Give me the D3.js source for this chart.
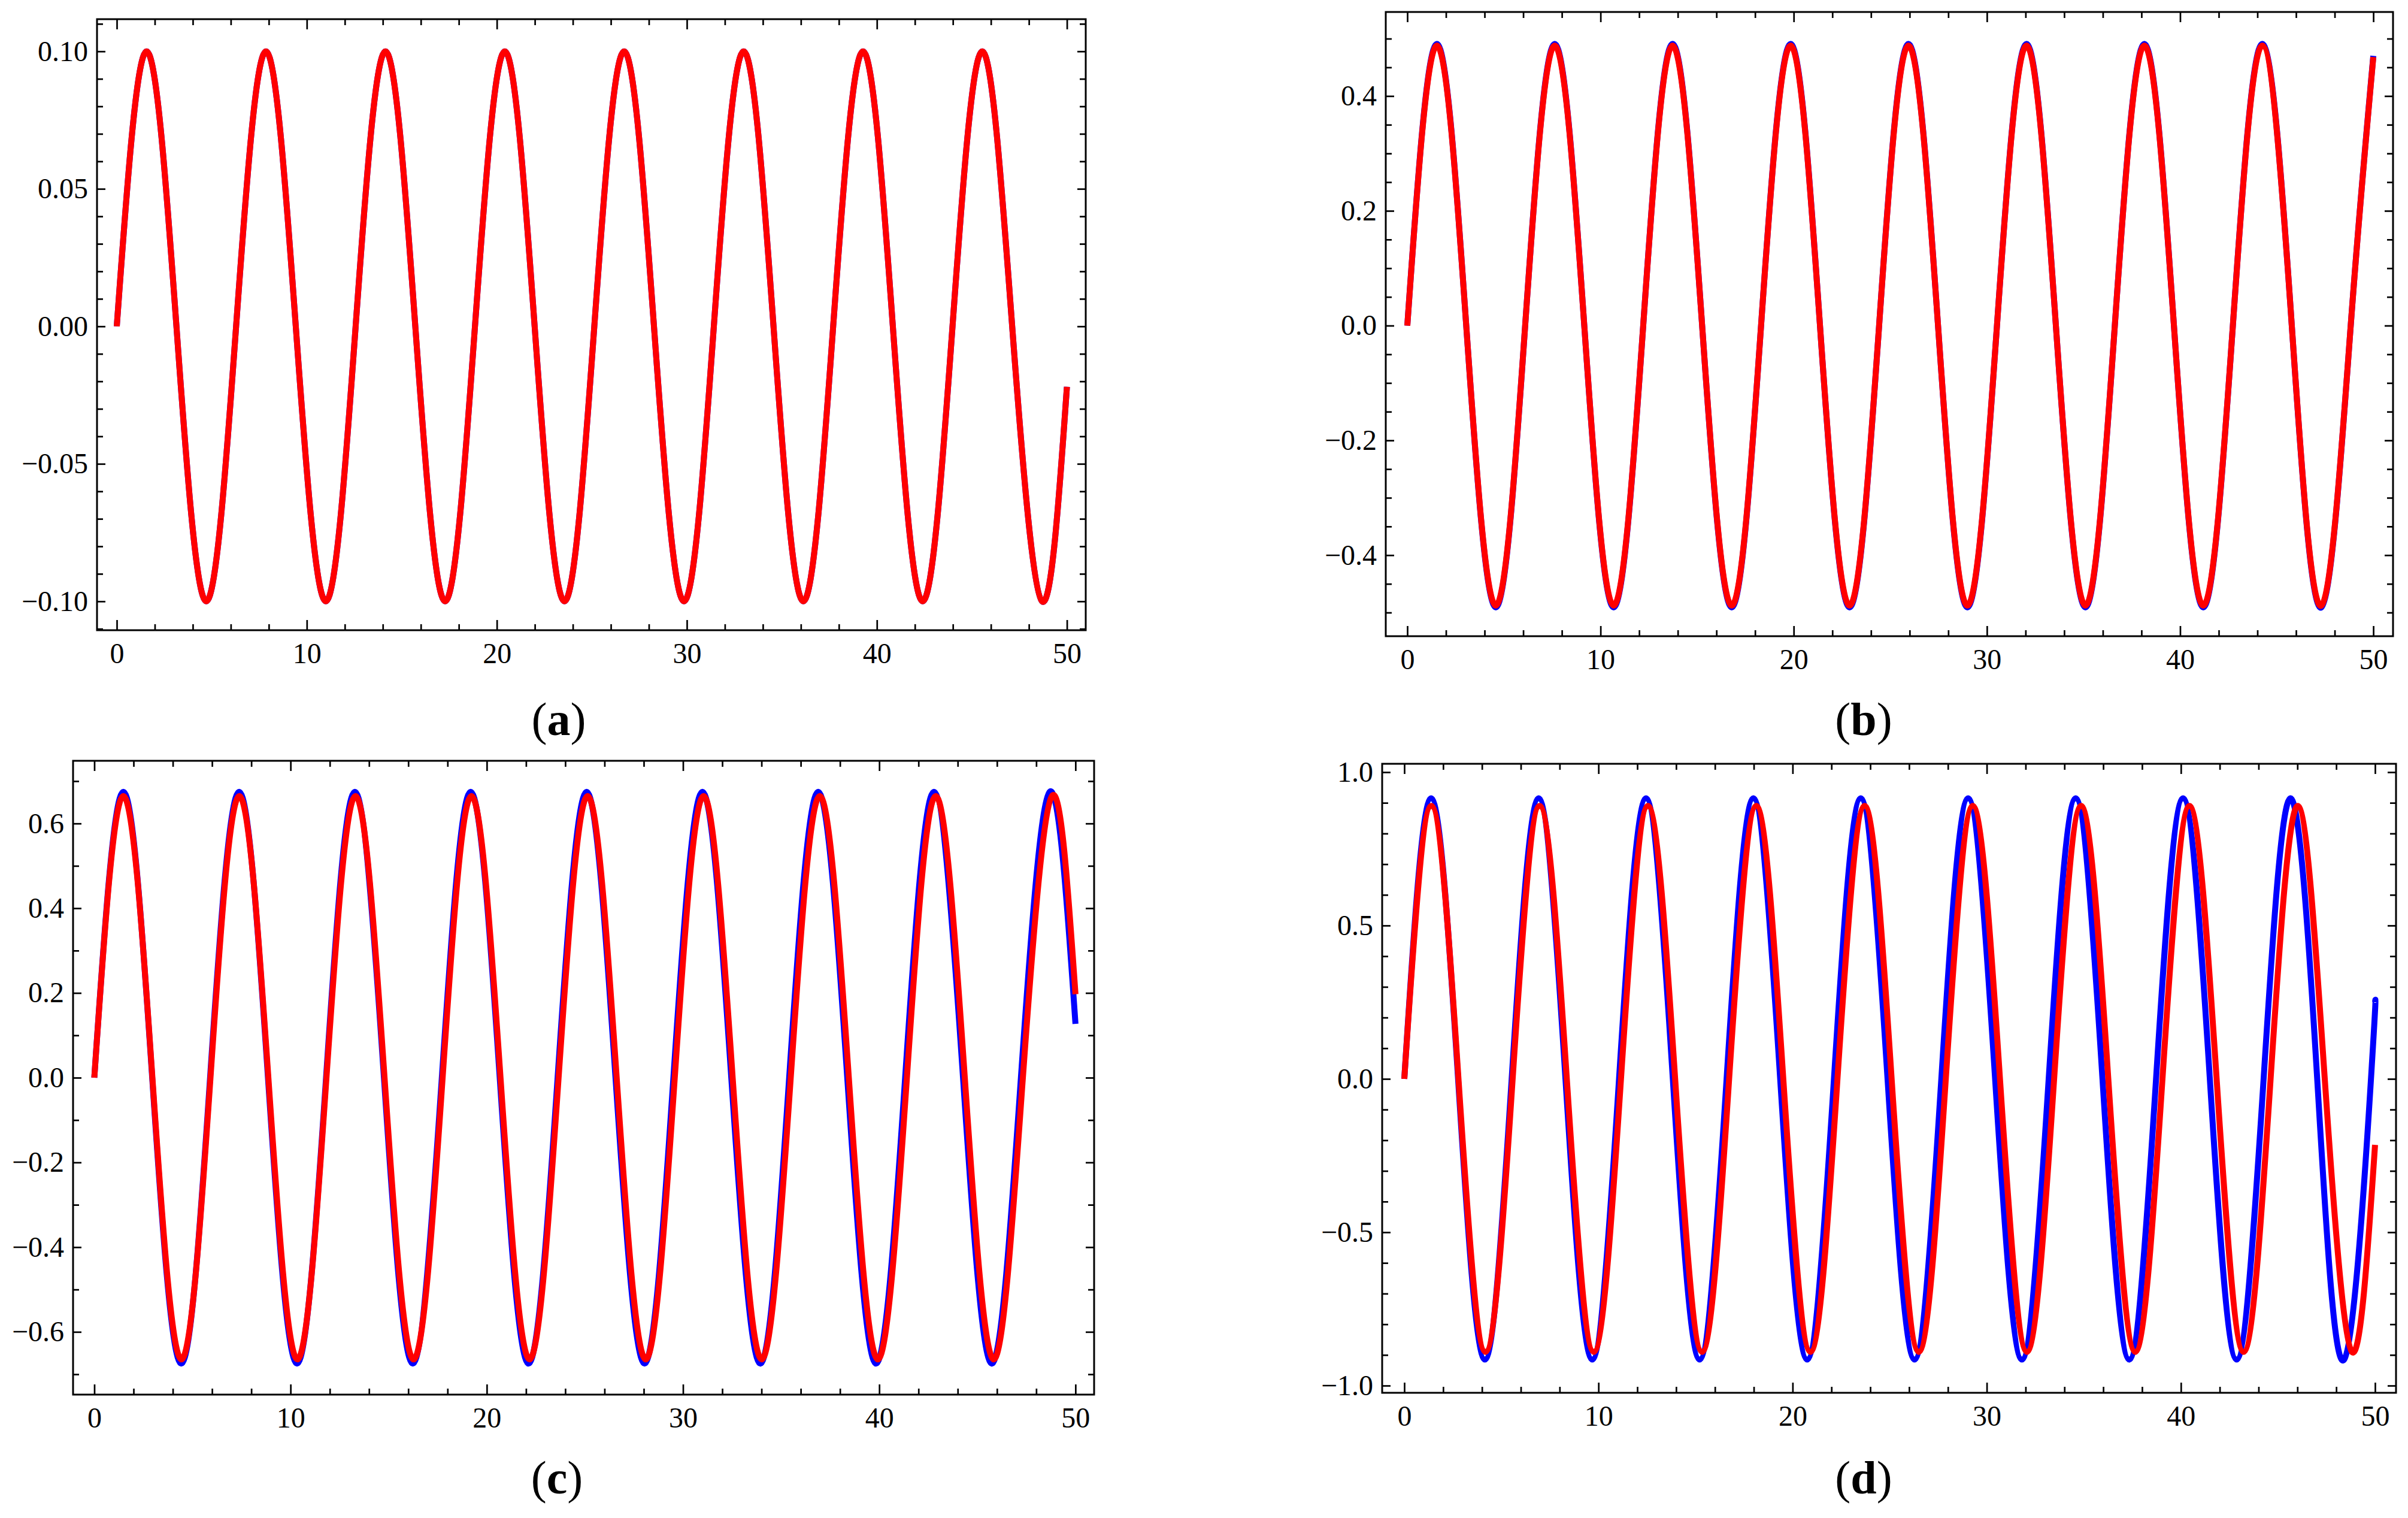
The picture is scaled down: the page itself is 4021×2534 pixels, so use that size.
<!DOCTYPE html>
<html>
<head>
<meta charset="utf-8">
<script src="https://cdn.jsdelivr.net/npm/d3@7"></script>
<style>
  body { margin: 0; background: #fff; }
</style>
</head>
<body>
<div id="figura"></div>
<script>
// ticks shared by the four panels
var xTicks = [0, 10, 20, 30, 40, 50];
var xLabels = ["0", "10", "20", "30", "40", "50"];

var aYTicks = [-0.1, -0.05, 0, 0.05, 0.1];
var aYLabels = ["\u22120.10", "\u22120.05", "0.00", "0.05", "0.10"];
var bYTicks = [-0.4, -0.2, 0, 0.2, 0.4];
var bYLabels = ["\u22120.4", "\u22120.2", "0.0", "0.2", "0.4"];
var cYTicks = [-0.6, -0.4, -0.2, 0, 0.2, 0.4, 0.6];
var cYLabels = ["\u22120.6", "\u22120.4", "\u22120.2", "0.0", "0.2", "0.4", "0.6"];
var dYTicks = [-1, -0.5, 0, 0.5, 1];
var dYLabels = ["\u22121.0", "\u22120.5", "0.0", "0.5", "1.0"];

// (a) curves read at zeros / peaks / troughs
var aTime = [0, 1.57, 3.14, 4.71, 6.28, 7.85, 9.42, 11.0, 12.57, 14.14, 15.71, 17.28, 18.85, 20.42, 21.99, 23.56,
  25.13, 26.7, 28.27, 29.85, 31.42, 32.99, 34.56, 36.13, 37.7, 39.27, 40.84, 42.41, 43.98, 45.55, 47.12, 48.69, 50];
var aBlue = [0, 0.1, 0, -0.1, 0, 0.1, 0, -0.1, 0, 0.1, 0, -0.1, 0, 0.1, 0, -0.1,
  0, 0.1, 0, -0.1, 0, 0.1, 0, -0.1, 0, 0.1, 0, -0.1, 0, 0.1, 0, -0.1, -0.022];
var aRed = [0, 0.1, 0, -0.1, 0, 0.1, 0, -0.1, 0, 0.1, 0, -0.1, 0, 0.1, 0, -0.1,
  0, 0.1, 0, -0.1, 0, 0.1, 0, -0.1, 0, 0.1, 0, -0.1, 0, 0.1, 0, -0.1, -0.022];

// (b)
var bTime = [0, 1.53, 3.05, 4.58, 6.1, 7.63, 9.16, 10.68, 12.21, 13.73, 15.26, 16.79, 18.31, 19.84, 21.36, 22.89,
  24.42, 25.94, 27.47, 28.99, 30.52, 32.05, 33.57, 35.1, 36.62, 38.15, 39.68, 41.2, 42.73, 44.25, 45.78, 47.31, 48.83, 50];
var bBlue = [0, 0.491, 0, -0.491, 0, 0.491, 0, -0.491, 0, 0.491, 0, -0.491, 0, 0.491, 0, -0.491,
  0, 0.491, 0, -0.491, 0, 0.491, 0, -0.491, 0, 0.491, 0, -0.491, 0, 0.491, 0, -0.491, 0, 0.47];
var bRed = [0, 0.488, 0, -0.488, 0, 0.488, 0, -0.488, 0, 0.488, 0, -0.488, 0, 0.488, 0, -0.488,
  0, 0.488, 0, -0.488, 0, 0.488, 0, -0.488, 0, 0.488, 0, -0.488, 0, 0.488, 0, -0.488, 0, 0.468];

// (c)
var cBlueTime = [0, 1.48, 2.95, 4.43, 5.9, 7.38, 8.85, 10.33, 11.81, 13.28, 14.76, 16.23, 17.71, 19.18, 20.66, 22.13,
  23.61, 25.09, 26.56, 28.04, 29.51, 30.99, 32.46, 33.94, 35.41, 36.89, 38.37, 39.84, 41.32, 42.79, 44.27, 45.74,
  47.22, 48.69, 50];
var cBlue = [0, 0.675, 0, -0.675, 0, 0.675, 0, -0.675, 0, 0.675, 0, -0.675, 0, 0.675, 0, -0.675,
  0, 0.675, 0, -0.675, 0, 0.675, 0, -0.675, 0, 0.675, 0, -0.675, 0, 0.675, 0, -0.675, 0, 0.675, 0.127];
var cRedTime = [0, 1.48, 2.96, 4.44, 5.92, 7.39, 8.87, 10.35, 11.83, 13.31, 14.79, 16.27, 17.75, 19.22, 20.7, 22.18,
  23.66, 25.14, 26.62, 28.1, 29.58, 31.05, 32.53, 34.01, 35.49, 36.97, 38.45, 39.93, 41.41, 42.88, 44.36, 45.84,
  47.32, 48.8, 50];
var cRed = [0, 0.665, 0, -0.665, 0, 0.665, 0, -0.665, 0, 0.665, 0, -0.665, 0, 0.665, 0, -0.665,
  0, 0.665, 0, -0.665, 0, 0.665, 0, -0.665, 0, 0.665, 0, -0.665, 0, 0.665, 0, -0.665, 0, 0.665, 0.197];

// (d)
var dBlueTime = [0, 1.38, 2.77, 4.15, 5.53, 6.92, 8.3, 9.68, 11.06, 12.45, 13.83, 15.21, 16.6, 17.98, 19.36, 20.75,
  22.13, 23.51, 24.89, 26.28, 27.66, 29.04, 30.43, 31.81, 33.19, 34.58, 35.96, 37.34, 38.72, 40.11, 41.49, 42.87,
  44.26, 45.64, 47.02, 48.41, 49.79, 50];
var dBlue = [0, 0.915, 0, -0.915, 0, 0.915, 0, -0.915, 0, 0.915, 0, -0.915, 0, 0.915, 0, -0.915,
  0, 0.915, 0, -0.915, 0, 0.915, 0, -0.915, 0, 0.915, 0, -0.915, 0, 0.915, 0, -0.915,
  0, 0.915, 0, -0.915, 0, 0.25];
var dRedTime = [0, 1.39, 2.79, 4.18, 5.58, 6.97, 8.37, 9.76, 11.16, 12.55, 13.95, 15.34, 16.73, 18.13, 19.52, 20.92,
  22.31, 23.71, 25.1, 26.5, 27.89, 29.28, 30.68, 32.07, 33.47, 34.86, 36.26, 37.65, 39.05, 40.44, 41.84, 43.23,
  44.62, 46.02, 47.41, 48.81, 50];
var dRed = [0, 0.89, 0, -0.89, 0, 0.89, 0, -0.89, 0, 0.89, 0, -0.89, 0, 0.89, 0, -0.89,
  0, 0.89, 0, -0.89, 0, 0.89, 0, -0.89, 0, 0.89, 0, -0.89, 0, 0.89, 0, -0.89,
  0, 0.89, 0, -0.89, -0.215];


var W = 4021, H = 2534;
var fuente = "'Liberation Serif', 'Times New Roman', serif";

var svg = d3.select('#figura').append('svg')
  .attr('width', W)
  .attr('height', H)
  .style('display', 'block');

svg.append('rect')
  .attr('width', W)
  .attr('height', H)
  .attr('fill', 'white');

var xMinor = d3.range(0, 51, 2).filter(function(d) { return d % 10 !== 0; });

function ejes(g, eje, tx, ty) {
  var a = g.append('g')
    .attr('transform', 'translate(' + tx + ',' + ty + ')')
    .call(eje);
  a.select('.domain').remove();
  a.selectAll('line').attr('stroke', '#000').attr('stroke-width', 2.7);
  a.attr('font-family', fuente).attr('font-size', 48);
  a.selectAll('text').attr('fill', '#000');
  return a;
}

function panel(p) {
  var g = svg.append('g');

  var x = d3.scaleLinear().domain(p.xDom).range([p.left, p.right]);
  var y = d3.scaleLinear().domain(p.yDom).range([p.bottom, p.top]);

  // ticks on every side of the frame, pointing inwards
  ejes(g, d3.axisBottom(x).tickValues(xMinor).tickSize(-10).tickFormat(''), 0, p.bottom);
  ejes(g, d3.axisTop(x).tickValues(xMinor).tickSize(-10).tickFormat(''), 0, p.top);
  ejes(g, d3.axisBottom(x).tickValues(xTicks).tickSize(-17).tickPadding(21)
    .tickFormat(function(d, i) { return xLabels[i]; }), 0, p.bottom);
  ejes(g, d3.axisTop(x).tickValues(xTicks).tickSize(-17).tickFormat(''), 0, p.top);

  ejes(g, d3.axisLeft(y).tickValues(p.yMinor).tickSize(-10).tickFormat(''), p.left, 0);
  ejes(g, d3.axisRight(y).tickValues(p.yMinor).tickSize(-10).tickFormat(''), p.right, 0);
  ejes(g, d3.axisLeft(y).tickValues(p.yTicks).tickSize(-14).tickPadding(15)
    .tickFormat(function(d, i) { return p.yLabels[i]; }), p.left, 0);
  ejes(g, d3.axisRight(y).tickValues(p.yTicks).tickSize(-14).tickFormat(''), p.right, 0);

  // frame
  g.append('rect')
    .attr('x', p.left)
    .attr('y', p.top)
    .attr('width', p.right - p.left)
    .attr('height', p.bottom - p.top)
    .attr('fill', 'none')
    .attr('stroke', '#000')
    .attr('stroke-width', 3);

  var linea = d3.line()
    .x(function(d) { return x(d[0]); })
    .y(function(d) { return y(d[1]); })
    .curve(d3.curveNatural);

  p.series.forEach(function(s) {
    g.append('path')
      .datum(d3.zip(s.t, s.v))
      .attr('d', linea)
      .attr('fill', 'none')
      .attr('stroke', s.color)
      .attr('stroke-width', 10)
      .attr('stroke-linejoin', 'round')
      .attr('stroke-linecap', 'butt');
  });

  // panel letter
  var t = g.append('text')
    .attr('x', p.labelX)
    .attr('y', p.labelY)
    .attr('text-anchor', 'middle')
    .attr('font-family', fuente)
    .attr('font-size', 78)
    .attr('fill', '#000');
  t.append('tspan').text('(');
  t.append('tspan').attr('font-weight', 'bold').text(p.letra);
  t.append('tspan').text(')');
}

panel({
  left: 162, right: 1813, top: 32, bottom: 1052,
  xDom: [-1.04, 50.99], yDom: [-0.1105, 0.1117],
  yTicks: aYTicks, yLabels: aYLabels,
  yMinor: d3.range(-11, 12).filter(function(d) { return d % 5 !== 0; }).map(function(d) { return d / 100; }),
  series: [{t: aTime, v: aBlue, color: '#0000ff'}, {t: aTime, v: aRed, color: '#ff0000'}],
  letra: 'a', labelX: 933, labelY: 1227
});

panel({
  left: 2314, right: 3996, top: 20, bottom: 1062,
  xDom: [-1.116, 51.02], yDom: [-0.5412, 0.5465],
  yTicks: bYTicks, yLabels: bYLabels,
  yMinor: [-0.5, -0.3, -0.1, 0.1, 0.3, 0.5].concat([-0.45, -0.35, -0.25, -0.15, -0.05, 0.05, 0.15, 0.25, 0.35, 0.45]),
  series: [{t: bTime, v: bBlue, color: '#0000ff'}, {t: bTime, v: bRed, color: '#ff0000'}],
  letra: 'b', labelX: 3112, labelY: 1227
});

panel({
  left: 122, right: 1827, top: 1270, bottom: 2328,
  xDom: [-1.083, 50.95], yDom: [-0.748, 0.748],
  yTicks: cYTicks, yLabels: cYLabels,
  yMinor: [-0.7, -0.5, -0.3, -0.1, 0.1, 0.3, 0.5, 0.7],
  series: [{t: cBlueTime, v: cBlue, color: '#0000ff'}, {t: cRedTime, v: cRed, color: '#ff0000'}],
  letra: 'c', labelX: 930, labelY: 2493
});

panel({
  left: 2308, right: 4001, top: 1275, bottom: 2325,
  xDom: [-1.141, 51.08], yDom: [-1.0234, 1.0273],
  yTicks: dYTicks, yLabels: dYLabels,
  yMinor: [-0.9, -0.8, -0.7, -0.6, -0.4, -0.3, -0.2, -0.1, 0.1, 0.2, 0.3, 0.4, 0.6, 0.7, 0.8, 0.9],
  series: [{t: dBlueTime, v: dBlue, color: '#0000ff'}, {t: dRedTime, v: dRed, color: '#ff0000'}],
  letra: 'd', labelX: 3112, labelY: 2493
});
</script>
</body>
</html>
